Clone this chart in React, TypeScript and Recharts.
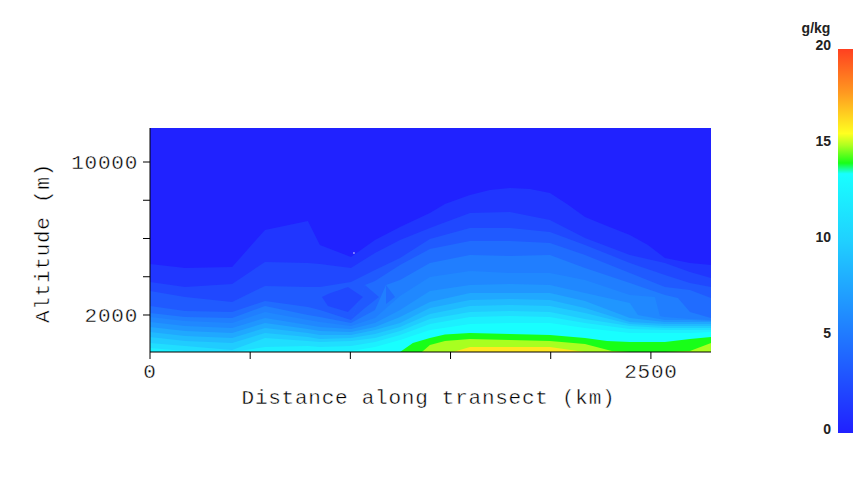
import { Area, AreaChart, Bar, BarChart, Label, ReferenceDot, XAxis, YAxis } from "recharts";

const Y_MIN = 65;
const Y_MAX = 11778;
const X_MAX = 2800;

const xTicks = [0, 500, 1000, 1500, 2000, 2500];
const yTicks = [2000, 4000, 6000, 8000, 10000];
const xLabelled = [0, 2500];
const yLabelled = [2000, 10000];
const barTicks = [0, 5, 10, 15, 20];

// distance (km) of each column
const distance = [0, 175, 410, 574, 788, 848, 1003, 1123, 1248, 1397, 1597, 1796, 1996, 2171, 2395, 2570, 2695, 2800];

// altitude (m) of each mixing ratio contour, 1 g/kg upwards
const level1 = [4667, 4458, 4510, 6446, 6916, 5661, 5033, 5922, 6602, 7335, 8276, 8642, 8381, 7125, 6184, 4981, 4720, 4615];
const level2 = [3726, 3464, 3621, 4772, 4720, 4667, 4458, 5243, 5922, 6550, 7335, 7387, 6969, 6027, 5138, 4720, 4249, 3935];
const level3 = [3255, 2941, 2680, 3517, 3464, 3464, 3726, 4354, 4981, 5975, 6550, 6550, 6341, 5661, 4720, 4092, 3674, 3464];
const level4 = [2471, 2209, 2157, 2732, 2418, 2262, 1739, 3778, 4615, 5452, 5870, 5870, 5766, 5138, 4197, 3464, 3308, 2889];
const level5 = [2105, 1895, 1843, 2471, 2000, 1895, 1582, 2262, 3831, 4720, 5138, 5086, 5138, 4458, 3674, 3046, 2157, 1843];
const level6 = [1895, 1686, 1582, 2157, 1739, 1634, 1425, 1843, 2994, 3987, 4301, 4197, 4197, 3831, 3046, 1895, 1791, 1739];
const level7 = [1634, 1425, 1320, 1843, 1477, 1372, 1268, 1582, 2262, 3255, 3569, 3621, 3569, 3151, 2628, 1739, 1739, 1686];
const level8 = [1372, 1163, 1059, 1582, 1268, 1163, 1111, 1372, 1895, 2680, 3151, 3151, 3151, 2732, 1843, 1634, 1634, 1634];
const level9 = [1111, 902, 797, 1320, 1059, 954, 954, 1215, 1582, 2366, 2785, 2837, 2785, 2366, 1634, 1529, 1529, 1529];
const level10 = [849, 640, 536, 1059, 849, 745, 797, 1006, 1372, 2052, 2471, 2523, 2471, 2105, 1529, 1425, 1425, 1425];
const level11 = [536, 379, 169, 797, 640, 588, 640, 797, 1163, 1791, 2157, 2209, 2157, 1791, 1425, 1320, 1320, 1320];
const level12 = [274, 117, 65, 326, 379, 326, 379, 588, 954, 1529, 1895, 1948, 1895, 1582, 1268, 1215, 1215, 1215];
const level13 = [65, 65, 65, 65, 65, 65, 117, 326, 692, 1215, 1529, 1582, 1582, 1320, 1059, 1059, 1059, 1111];
const level14 = [65, 65, 65, 65, 65, 65, 65, 65, 65, 797, 1059, 1006, 954, 797, 588, 588, 745, 849];
const level15 = [65, 65, 65, 65, 65, 65, 65, 65, 65, 431, 745, 692, 640, 483, 65, 65, 117, 536];
const level16 = [65, 65, 65, 65, 65, 65, 65, 65, 65, 65, 326, 326, 326, 65, 65, 65, 65, 65];

const levels = [level1, level2, level3, level4, level5, level6, level7, level8, level9, level10, level11, level12, level13, level14, level15, level16];

// contour points that fall between the columns: level, distance, altitude
const extraPoints = [
  [1, 1472, 7805],
  [1, 1697, 8537],
  [1, 1896, 8590],
  [1, 2081, 7805],
  [1, 2281, 6655],
  [1, 2485, 5661],
  [4, 1073, 3569],
  [5, 1178, 3569],
  [5, 2635, 2889],
  [6, 2520, 2941],
  [6, 2545, 1948],
  [7, 2435, 2000],
  [14, 1312, 536],
  [14, 1472, 980],
  [14, 2281, 640],
  [15, 1357, 65],
  [15, 1472, 640],
  [15, 2305, 117],
  [16, 1512, 65],
];

const bandColors = [
  "#2036ff", "#2048ff", "#205aff", "#206cff", "#207eff", "#2088ff", "#2096ff", "#20a8ff",
  "#20baff", "#20ccff", "#20deff", "#1cf0ff", "#18ffff", "#18ff18", "#a8ff20", "#ffe820",
];
const baseColor = "#2022ff";

// closed contour and the two folds, [distance, low, high]
const pocket = [[858, 2941, 2941], [888, 2471, 3099], [988, 2157, 3464], [1063, 2941, 2941]];
const foldA = [[1003, 1739, 1739], [1073, 2366, 3569], [1143, 2941, 2941]];
const foldB = [[1178, 2575, 3569], [1223, 2941, 2941]];

const gradientStops = [
  ["0%", "#2020ff"], ["25%", "#2078ff"], ["50%", "#20d0ff"], ["67.5%", "#18ffff"],
  ["70.3%", "#18ff18"], ["75%", "#b0ff20"], ["78%", "#ffff20"], ["88.5%", "#ff9a20"], ["100%", "#ff4020"],
];

type Row = Record<string, number | [number, number] | null>;
const byKm = new Map<number, Row>();
const rowAt = (km: number) => {
  if (!byKm.has(km)) byKm.set(km, { km });
  return byKm.get(km) as Row;
};
distance.forEach((km, i) => {
  levels.forEach((lv, l) => {
    rowAt(km)[`l${l + 1}`] = lv[i];
  });
});
extraPoints.forEach(([l, km, alt]) => {
  rowAt(km)[`l${l}`] = alt;
});
const addRange = (key: string, list: number[][]) =>
  list.forEach(([km, lo, hi]) => {
    rowAt(km)[key] = [lo, hi];
  });
addRange("pocket", pocket);
addRange("foldA", foldA);
addRange("foldB", foldB);
const rows = [...byKm.values()].sort((a, b) => (a.km as number) - (b.km as number));

// the white stroke shaves the glyphs down to the thin look of the original
const stickFont = { fontFamily: "Liberation Mono", fontSize: 21, letterSpacing: 0.75, fill: "#000", stroke: "#fff", strokeWidth: 0.4 };

function BarTick({ x, y, payload }: any) {
  return (
    <text x={x + 1} y={y - 4} dy="0.35em" textAnchor="end" fontFamily="Liberation Sans" fontWeight="bold" fontSize={14} fill="#222">
      {payload.value}
    </text>
  );
}

export default function App() {
  return (
    <div style={{ position: "absolute", left: 0, top: 0, width: 862, height: 480, background: "#fff" }}>
      <div style={{ position: "absolute", left: 0, top: 0 }}>
        <AreaChart width={790} height={480} data={rows} margin={{ top: 128, right: 79, bottom: 68, left: 70 }}>
          <XAxis
            type="number"
            dataKey="km"
            domain={[0, X_MAX]}
            ticks={xTicks}
            tickFormatter={(v) => (xLabelled.includes(v) ? String(v) : "")}
            tick={stickFont}
            tickSize={7}
            tickMargin={4}
            interval={0}
            stroke="#000"
            height={60}
          >
            <Label value="Distance along transect (km)" position="insideBottom" offset={8} dx={-2} style={stickFont} />
          </XAxis>
          <YAxis
            type="number"
            domain={[Y_MIN, Y_MAX]}
            ticks={yTicks}
            tickFormatter={(v) => (yLabelled.includes(v) ? String(v) : "")}
            tick={stickFont}
            tickSize={7}
            tickMargin={5}
            interval={0}
            stroke="#000"
            width={80}
          >
            <Label value="Altitude (m)" angle={-90} position="insideLeft" offset={-28} dy={3} style={{ ...stickFont, textAnchor: "middle" }} />
          </YAxis>
          <Area dataKey={() => Y_MAX} baseValue={Y_MIN} type="linear" stroke="none" fill={baseColor} fillOpacity={1} isAnimationActive={false} dot={false} activeDot={false} />
          {bandColors.map((c, i) => (
            <Area
              key={i}
              dataKey={`l${i + 1}`}
              baseValue={Y_MIN}
              type="linear"
              connectNulls
              stroke="none"
              fill={c}
              fillOpacity={1}
              isAnimationActive={false}
              dot={false}
              activeDot={false}
            />
          ))}
          <Area dataKey="foldA" type="linear" connectNulls stroke="none" fill={bandColors[2]} fillOpacity={1} isAnimationActive={false} dot={false} activeDot={false} />
          <Area dataKey="foldB" type="linear" connectNulls stroke="none" fill={bandColors[3]} fillOpacity={1} isAnimationActive={false} dot={false} activeDot={false} />
          <Area dataKey="pocket" type="linear" connectNulls stroke="none" fill={bandColors[1]} fillOpacity={1} isAnimationActive={false} dot={false} activeDot={false} />
          <ReferenceDot x={1018} y={5243} r={0.7} fill="#fff" stroke="none" />
        </AreaChart>
      </div>
      <div style={{ position: "absolute", left: 790, top: 0 }}>
        <BarChart width={72} height={480} data={[{ name: "g/kg", value: 20 }]} margin={{ top: 49, right: 9, bottom: 47, left: 0 }} barCategoryGap={0}>
          <defs>
            <linearGradient id="scale" x1="0" y1="1" x2="0" y2="0">
              {gradientStops.map(([o, c]) => (
                <stop key={o} offset={o} stopColor={c} />
              ))}
            </linearGradient>
          </defs>
          <XAxis dataKey="name" hide />
          <YAxis type="number" domain={[0, 20]} ticks={barTicks} tick={<BarTick />} axisLine={false} tickLine={false} width={48}>
            <Label value="g/kg" position="top" offset={16} dx={2} style={{ fontFamily: "Liberation Sans", fontWeight: "bold", fontSize: 14, fill: "#222" }} />
          </YAxis>
          <Bar dataKey="value" fill="url(#scale)" isAnimationActive={false} />
        </BarChart>
      </div>
    </div>
  );
}
